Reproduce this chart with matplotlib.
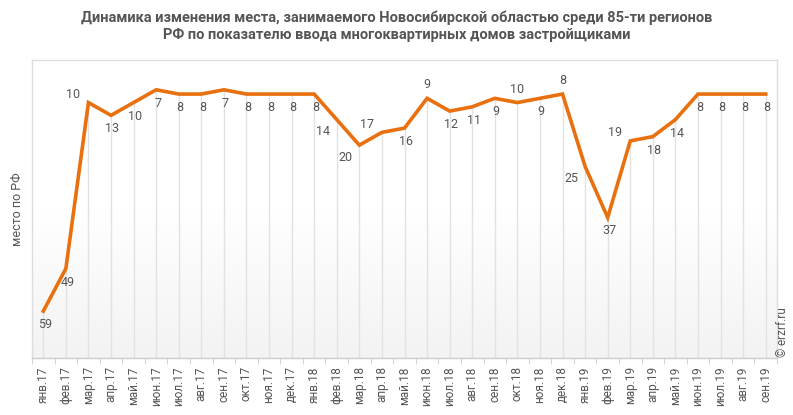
import numpy as np
import matplotlib.pyplot as plt

# Данные: место Новосибирской области по месяцам
months = ["янв.17", "фев.17", "мар.17", "апр.17", "май.17", "июн.17", "июл.17",
          "авг.17", "сен.17", "окт.17", "ноя.17", "дек.17", "янв.18", "фев.18",
          "мар.18", "апр.18", "май.18", "июн.18", "июл.18", "авг.18", "сен.18",
          "окт.18", "ноя.18", "дек.18", "янв.19", "фев.19", "мар.19", "апр.19",
          "май.19", "июн.19", "июл.19", "авг.19", "сен.19"]
rank = [59, 49, 10, 13, 10, 7, 8, 8, 7, 8, 8, 8, 8, 14, 20, 17, 16, 9, 12, 11,
        9, 10, 9, 8, 25, 37, 19, 18, 14, 8, 8, 8, 8]
# где ставить подпись: b - снизу, a - сверху, l - слева, bl - снизу слева
label_pos = ["b", "b", "l", "b", "b", "b", "b", "b", "b", "b", "b", "b", "b", "bl",
             "bl", "l", "b", "a", "b", "b", "b", "a", "b", "a", "bl", "b", "l", "b",
             "b", "b", "b", "b", "b"]

plt.rcParams['font.family'] = ['Roboto', 'DejaVu Sans']

fig = plt.figure(figsize=(7.93, 4.15), dpi=100)
ax = fig.add_axes([32 / 793, 1 - 358 / 415, 745 / 793, 298 / 415])

x = np.arange(len(months))
ax.set_xlim(-0.5, len(months) - 0.5)
ax.set_ylim(70, 0)

# фон с лёгким градиентом
grad = np.linspace(0, 1, 256).reshape(-1, 1)
ax.imshow(grad, extent=[-0.5, len(months) - 0.5, 70, 0], aspect='auto',
          cmap=plt.matplotlib.colors.LinearSegmentedColormap.from_list(
              "g", ["#ffffff", "#ffffff", "#f3f3f3"]), zorder=0)

# линии от точки вниз
ax.vlines(x, rank, 70, color="#e2e2e2", linewidth=1, zorder=1)

ax.plot(x, rank, color="#e8700e", linewidth=2.6, zorder=3, solid_joinstyle='miter')

offsets = {"b": (1, -5, 'center', 'top'), "a": (0, 5, 'center', 'bottom'),
           "l": (-6, 1, 'right', 'bottom'), "bl": (-5, -4, 'right', 'top')}
for xi, yi, p in zip(x, rank, label_pos):
    dx, dy, ha, va = offsets[p]
    ax.annotate(str(yi), (xi, yi), xytext=(dx, dy), textcoords='offset points',
                ha=ha, va=va, fontsize=9, color="#555555", zorder=4)

ax.set_xticks(x)
ax.set_xticklabels(months, rotation=90, fontsize=8.5, color="#555555")
ax.set_xticks(np.arange(-0.5, len(months), 1), minor=True)
ax.tick_params(axis='x', which='major', length=0, pad=6)
ax.tick_params(axis='x', which='minor', length=4, color="#cccccc")
ax.set_yticks([])

for s in ax.spines.values():
    s.set_color("#dddddd")
    s.set_linewidth(1)
ax.spines['bottom'].set_color("#cccccc")

ax.set_ylabel("место по РФ", fontsize=9, color="#555555", labelpad=6)

fig.text(0.5, 0.975, "Динамика изменения места, занимаемого Новосибирской областью среди 85-ти регионов\n"
         "РФ по показателю ввода многоквартирных домов застройщиками",
         ha='center', va='top', fontsize=10.5, fontweight='bold', color="#555555",
         linespacing=1.25)

fig.text(789 / 793, 1 - 357 / 415, "© erzrf.ru", rotation=90, ha='right', va='bottom',
         fontsize=8.5, color="#555555")

fig.savefig("out.png", dpi=100)
